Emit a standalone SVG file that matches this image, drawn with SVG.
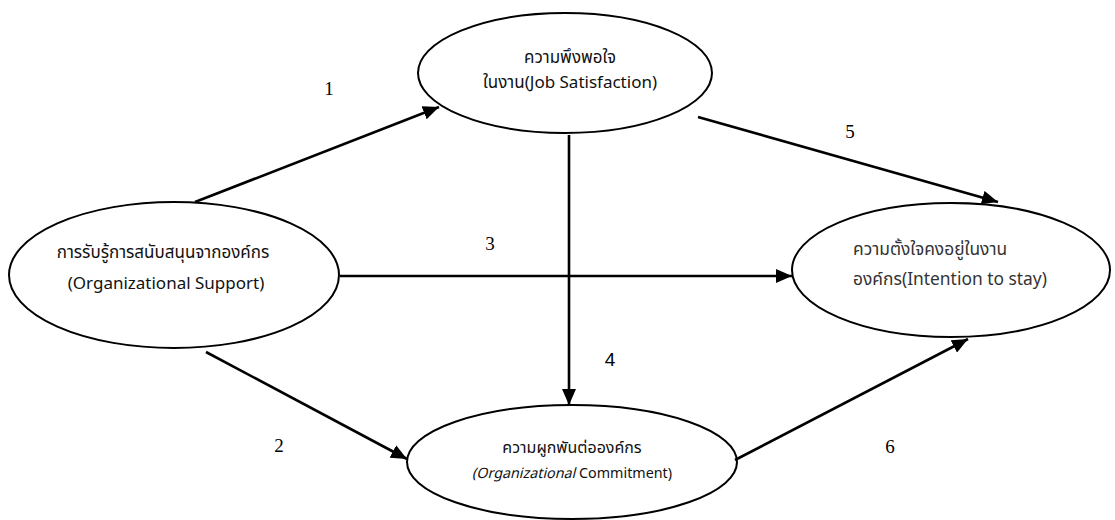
<svg xmlns="http://www.w3.org/2000/svg" width="1115" height="520" viewBox="0 0 1115 520">
<style>
.node ellipse{fill:#fff;stroke:#000;stroke-width:2}
.t{font-family:"Noto Sans Thai","Noto Sans","DejaVu Sans",sans-serif;font-size:17px;fill:#111;text-anchor:middle}
.tb{font-family:"Noto Sans Thai","Noto Sans","DejaVu Sans",sans-serif;font-size:14.3px;fill:#111;text-anchor:middle}
.tbt{font-family:"Noto Sans Thai","Noto Sans","DejaVu Sans",sans-serif;font-size:16px;fill:#111;text-anchor:middle}
.tr{font-family:"Noto Sans Thai","Noto Sans","DejaVu Sans",sans-serif;font-size:17.4px;fill:#333}
.n{font-family:"Liberation Serif",serif;font-size:19px;fill:#000;text-anchor:middle}
.ns{font-family:"Liberation Sans",sans-serif;font-size:19px;fill:#000;text-anchor:middle}
.c line{stroke:#000;stroke-width:2.6;marker-end:url(#ah)}
</style>
<defs>
<marker id="ah" markerUnits="userSpaceOnUse" markerWidth="16" markerHeight="14" refX="16" refY="7" orient="auto">
<path d="M0,0 L16,7 L0,14 Z" fill="#000"/>
</marker>
</defs>
<rect width="1115" height="520" fill="#fff"/>
<g id="node-job" class="node">
<ellipse cx="565" cy="73" rx="147" ry="60"/>
<text class="t" x="570" y="63">ความพึงพอใจ</text>
<text class="t" x="570" y="88">ในงาน(Job Satisfaction)</text>
</g>
<g id="node-support" class="node">
<ellipse cx="174" cy="275" rx="165" ry="73"/>
<text class="t" x="163" y="258">การรับรู้การสนับสนุนจากองค์กร</text>
<text class="t" x="166" y="289">(Organizational Support)</text>
</g>
<g id="node-stay" class="node">
<ellipse cx="951" cy="270" rx="159" ry="67"/>
<text class="tr" x="853" y="255">ความตั้งใจคงอยู่ในงาน</text>
<text class="tr" x="853" y="285">องค์กร(Intention to stay)</text>
</g>
<g id="node-commit" class="node">
<ellipse cx="572" cy="462" rx="165" ry="57"/>
<text class="tbt" x="572" y="453">ความผูกพันต่อองค์กร</text>
<text class="tb" x="572" y="478"><tspan font-style="italic">(Organizational</tspan> Commitment)</text>
</g>
<g id="connectors" class="c">
<line x1="195" y1="202" x2="439" y2="107"/>
<line x1="206" y1="352" x2="407" y2="459"/>
<line x1="340" y1="276" x2="792" y2="276"/>
<line x1="569" y1="135" x2="569" y2="405"/>
<line x1="698" y1="117" x2="998" y2="202"/>
<line x1="735" y1="460" x2="968" y2="339"/>
</g>
<g id="labels">
<text class="n" x="329" y="95">1</text>
<text class="n" x="279" y="452">2</text>
<text class="n" x="490" y="250">3</text>
<text class="ns" x="610" y="366">4</text>
<text class="n" x="850" y="138">5</text>
<text class="n" x="890" y="453">6</text>
</g>
</svg>
